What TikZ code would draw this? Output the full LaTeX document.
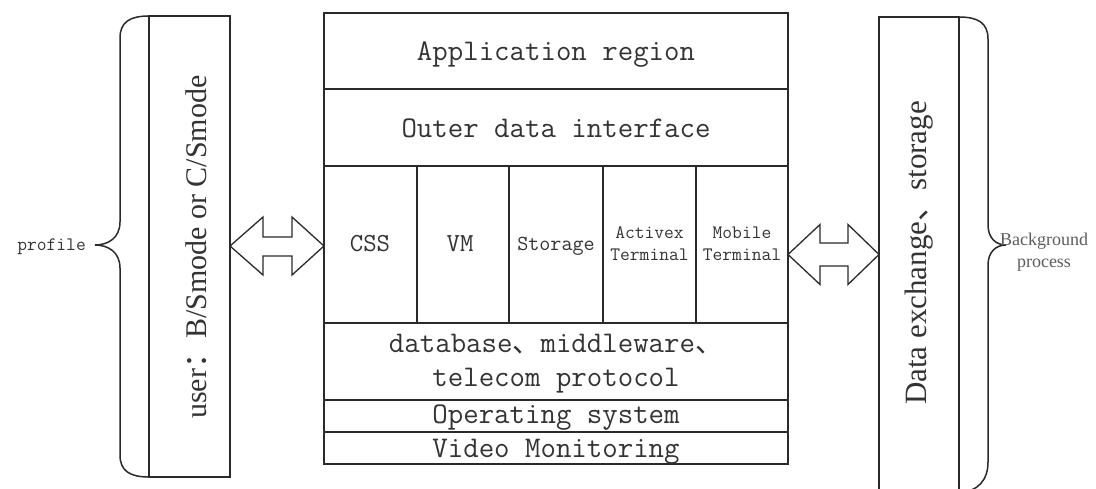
\documentclass[tikz,border=0pt]{standalone}
\usepackage{fontspec}
\setmainfont{Liberation Serif}
\newfontfamily\cjk{Noto Sans CJK SC}
\definecolor{linec}{HTML}{2A2A2A}
\definecolor{textc}{HTML}{333333}
\begin{document}
\begin{tikzpicture}[x=1pt,y=-1pt,
  cell/.style={draw=linec, line width=1.5pt, inner sep=0pt, outer sep=0pt},
  lbl/.style={text=textc, inner sep=0pt, anchor=base, font=\ttfamily\fontsize{30}{30}\selectfont},
  small/.style={text=textc, inner sep=0pt, anchor=base},
  side/.style={text=textc, inner sep=0pt, rotate=90, font=\fontsize{30}{30}\selectfont},
  bracepath/.style={draw=linec, line width=1.5pt},
  blockarrow/.style={draw=linec, line width=1.3pt, fill=white, line join=miter}]
\useasboundingbox (0,0) rectangle (1096,488);

% central layer stack
\node[cell, minimum width=464pt, minimum height=76pt] (app) at (556,51) {};
\node[cell, minimum width=464pt, minimum height=77pt] (outer) at (556,127.5) {};
\node[cell, minimum width=93pt, minimum height=157pt] (css) at (370.5,244.5) {};
\node[cell, minimum width=92pt, minimum height=157pt] (vm) at (463,244.5) {};
\node[cell, minimum width=94pt, minimum height=157pt] (sto) at (556,244.5) {};
\node[cell, minimum width=93pt, minimum height=157pt] (actx) at (649.5,244.5) {};
\node[cell, minimum width=92pt, minimum height=157pt] (mob) at (742,244.5) {};
\node[cell, minimum width=464pt, minimum height=77pt] (db) at (556,361.5) {};
\node[cell, minimum width=464pt, minimum height=32pt] (os) at (556,416) {};
\node[cell, minimum width=464pt, minimum height=32pt] (vid) at (556,448) {};

\node[lbl] (tapp) at (556,60) {Application region};
\node[lbl] (touter) at (556,137) {Outer data interface};
\node[lbl] (tdb1) at (556,352) {database{\cjk\fontsize{28}{28}\selectfont 、}middleware{\cjk\fontsize{28}{28}\selectfont 、}};
\node[lbl] (tdb2) at (556,386) {telecom protocol};
\node[lbl] (tos) at (556,423) {Operating system};
\node[lbl] (tvid) at (556,457) {Video Monitoring};

\node[small, font=\ttfamily\fontsize{26}{26}\selectfont] (tcss) at (370,251) {CSS};
\node[small, font=\ttfamily\fontsize{26}{26}\selectfont] (tvm) at (460,251) {VM};
\node[small, font=\ttfamily\fontsize{21.5}{21.5}\selectfont] (tsto) at (556,250) {Storage};
\node[small, font=\ttfamily\fontsize{19}{19}\selectfont] (tact1) at (649.5,238) {Activex};
\node[small, font=\ttfamily\fontsize{19}{19}\selectfont] (tact2) at (649.5,260) {Terminal};
\node[small, font=\ttfamily\fontsize{19}{19}\selectfont] (tmob1) at (742,238) {Mobile};
\node[small, font=\ttfamily\fontsize{19}{19}\selectfont] (tmob2) at (742,260) {Terminal};

% side columns
\node[cell, minimum width=81pt, minimum height=461pt] (user) at (189.5,246.5) {};
\node[side] (tuser) at (196,247) {user{\cjk ：}B/Smode or C/Smode};
\node[cell, minimum width=80pt, minimum height=475pt] (dex) at (919,254.5) {};
\node[side, font=\fontsize{31}{31}\selectfont] (tdex) at (919,253) {Data exchange{\cjk 、}storage};

% braces
\draw[bracepath] (149,16) .. controls (130,16) and (120,22) .. (120,38)
  -- (120,222) .. controls (120,238) and (108,245) .. (95,245)
  .. controls (108,245) and (120,252) .. (120,268)
  -- (120,455) .. controls (120,471) and (130,477) .. (149,477);
\draw[bracepath] (959,17) .. controls (978,17) and (988,23) .. (988,39)
  -- (988,225) .. controls (988,238) and (996,245) .. (1006,245)
  .. controls (996,245) and (988,252) .. (988,265)
  -- (988,462) .. controls (988,480) and (978,492) .. (959,492);

\node[small, anchor=base east, font=\ttfamily\fontsize{19}{19}\selectfont] (tprof) at (86,250) {profile};
\node[text=textc!80, inner sep=0pt, align=center, font=\fontsize{18}{22}\selectfont] (tbg) at (1044,252) {Background\\process};

% block double arrows
\draw[blockarrow] (230,246) -- (263,217) -- (263,237) -- (292,237) -- (292,217)
  -- (324,246) -- (292,275) -- (292,256) -- (263,256) -- (263,275) -- cycle;
\draw[blockarrow] (788,254.5) -- (820,224.5) -- (820,243) -- (848,243) -- (848,224.5)
  -- (879,254.5) -- (848,284.5) -- (848,266) -- (820,266) -- (820,284.5) -- cycle;
\end{tikzpicture}
\end{document}
